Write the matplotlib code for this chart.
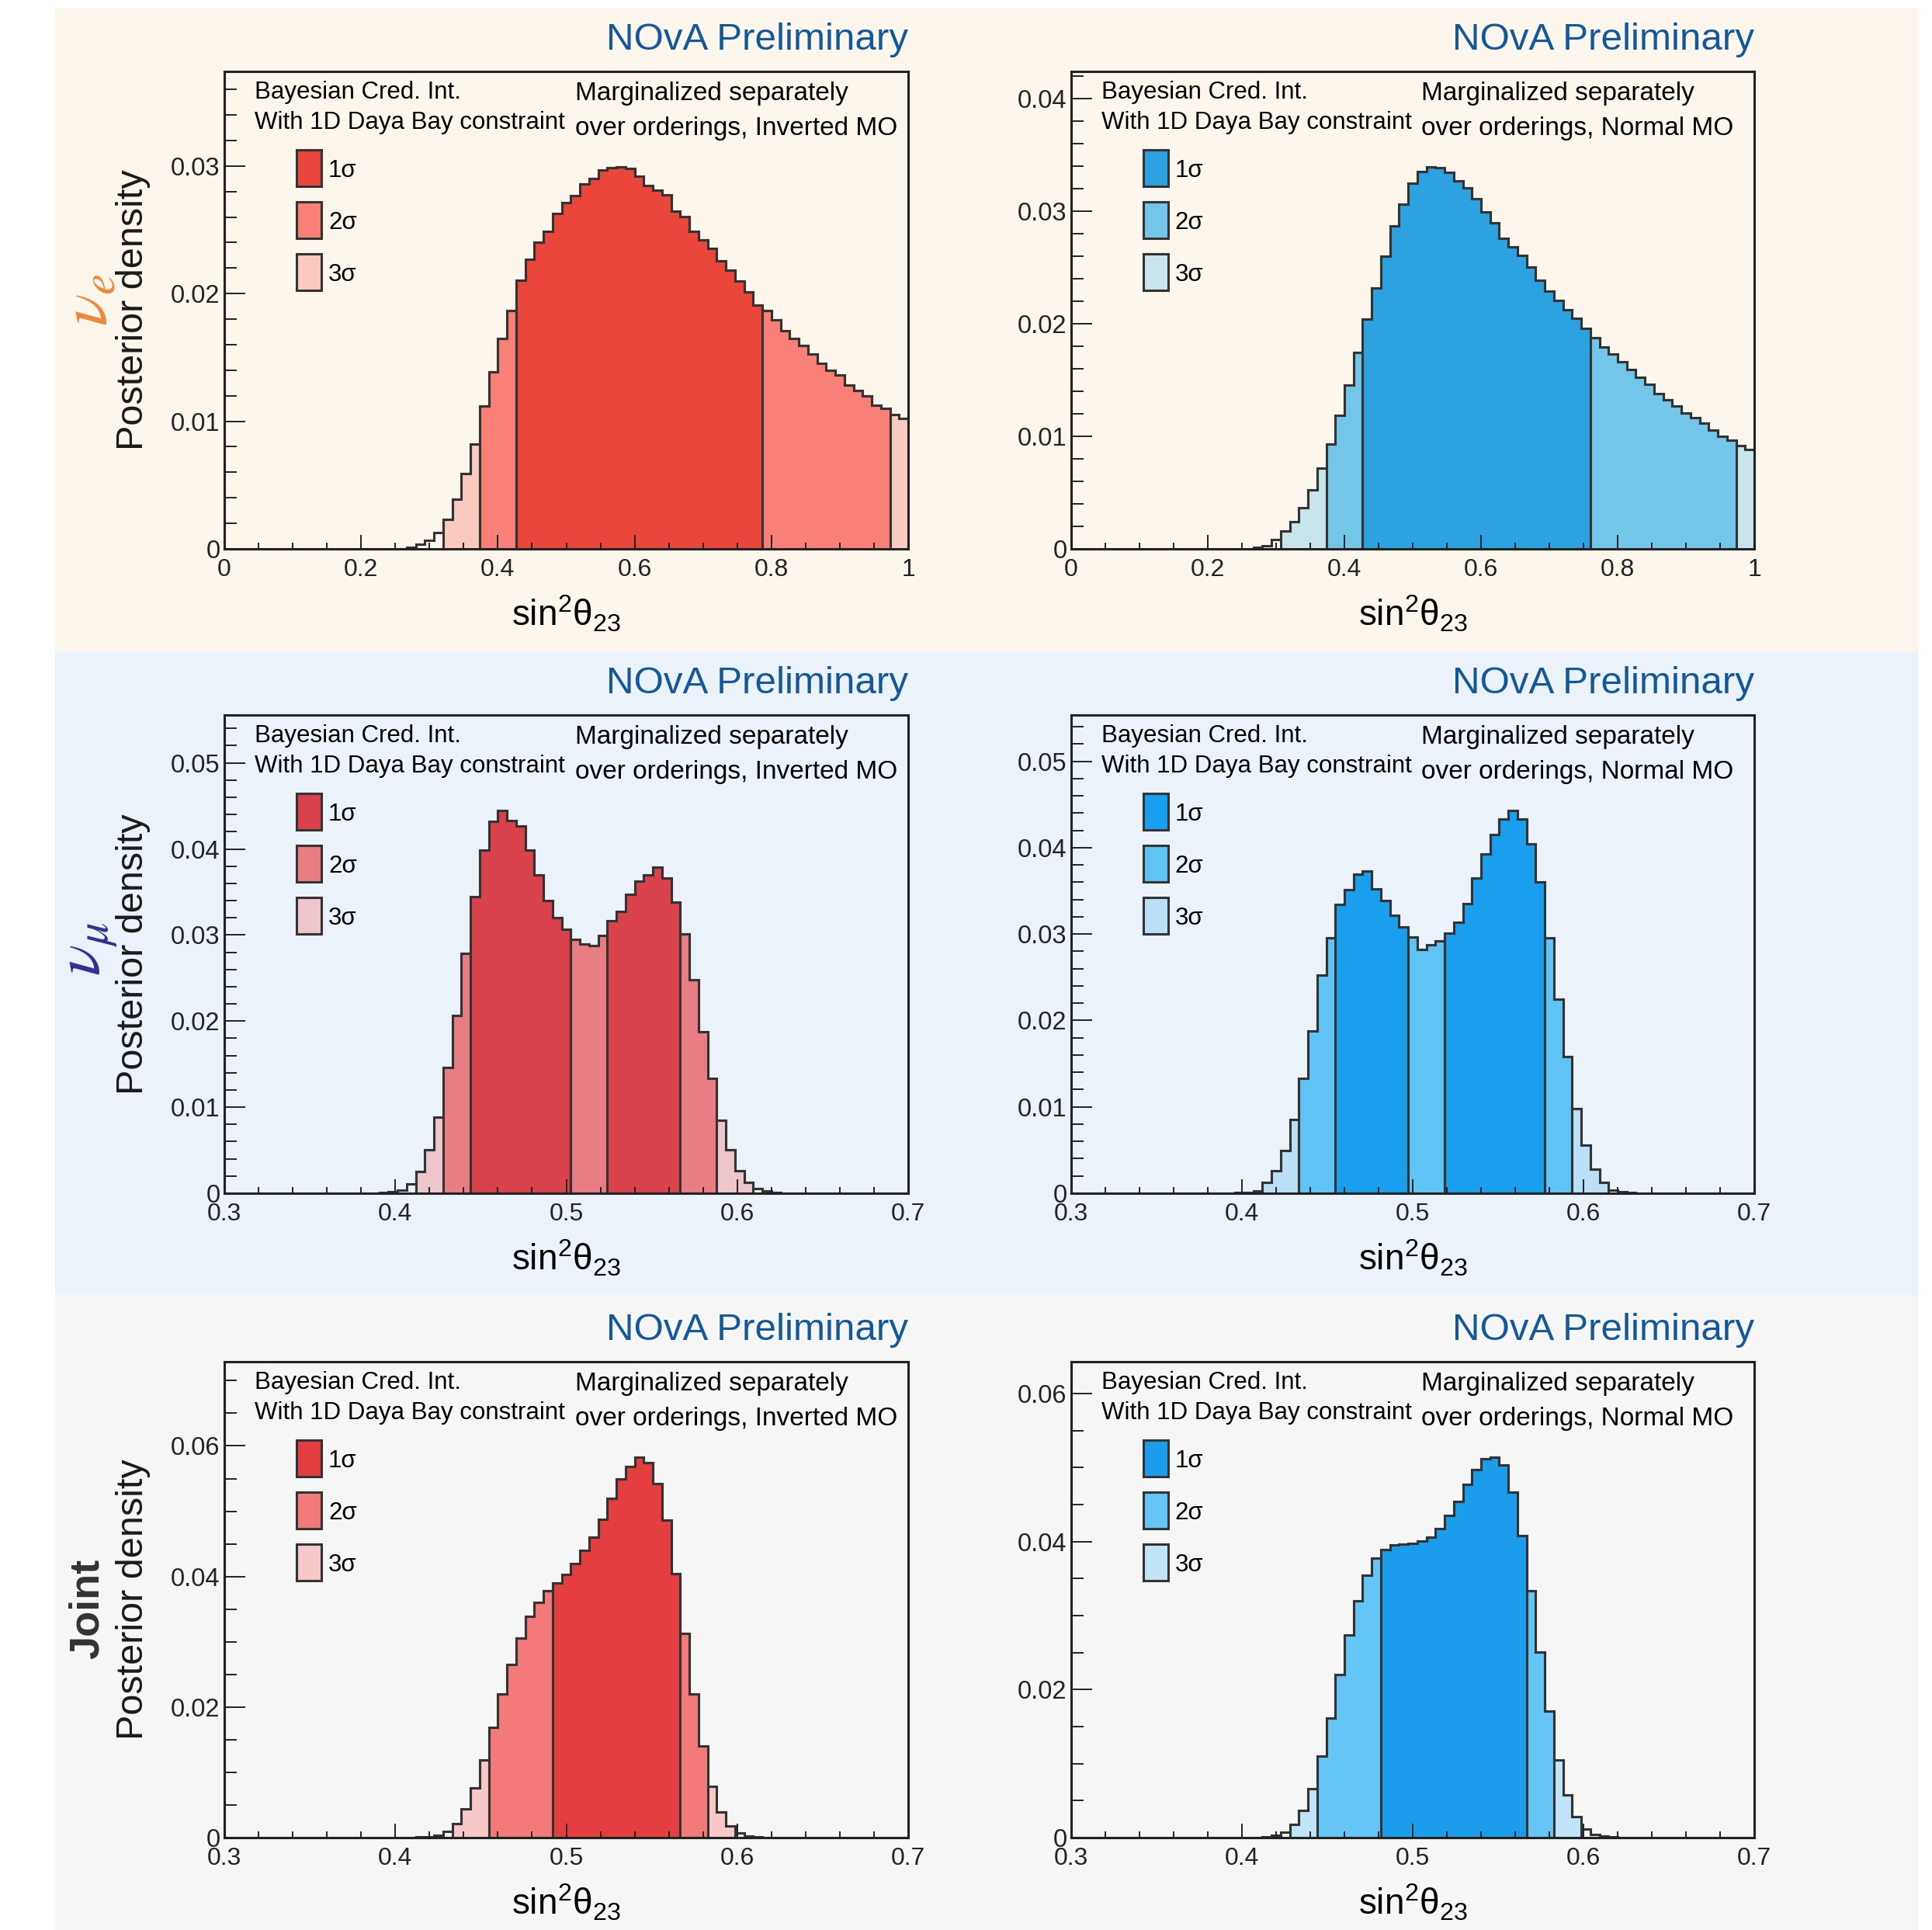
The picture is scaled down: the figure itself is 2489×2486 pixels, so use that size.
import matplotlib
matplotlib.use("Agg")
import matplotlib.pyplot as plt
import numpy as np
from matplotlib.patches import Rectangle
from matplotlib.ticker import MultipleLocator, FuncFormatter

plt.rcParams["font.family"] = ["Liberation Sans", "DejaVu Sans"]
plt.rcParams["mathtext.fontset"] = "custom"
plt.rcParams["mathtext.rm"] = "Liberation Sans"
plt.rcParams["mathtext.it"] = "Liberation Sans:italic"
plt.rcParams["mathtext.bf"] = "Liberation Sans:bold"

W, H = 2489, 2486
N_BINS = 75
LINE = "#333333"
NOVA_BLUE = "#14589c"

# ---- posterior densities (75 bins each), values start at bin index *_first ----
ve_io_first = 20
ve_io = [0.00013, 0.00034, 0.00068, 0.00126, 0.00231, 0.00389, 0.00592, 0.00823, 0.01118, 0.01389,
         0.01646, 0.01867, 0.02104, 0.02270, 0.02401, 0.02488, 0.02627, 0.02714, 0.02769, 0.02862,
         0.02901, 0.02967, 0.02988, 0.02993, 0.02980, 0.02922, 0.02848, 0.02809, 0.02777, 0.02648,
         0.02604, 0.02491, 0.02420, 0.02354, 0.02259, 0.02183, 0.02099, 0.02015, 0.01909, 0.01870,
         0.01796, 0.01710, 0.01646, 0.01594, 0.01525, 0.01454, 0.01402, 0.01362, 0.01283, 0.01239,
         0.01199, 0.01126, 0.01099, 0.01052, 0.01020]
ve_no_first = 20
ve_no = [0.00012, 0.00030, 0.00082, 0.00158, 0.00240, 0.00365, 0.00522, 0.00714, 0.00933, 0.01185,
         0.01455, 0.01747, 0.02041, 0.02315, 0.02600, 0.02871, 0.03065, 0.03247, 0.03354, 0.03393,
         0.03387, 0.03347, 0.03272, 0.03205, 0.03111, 0.02992, 0.02898, 0.02761, 0.02685, 0.02606,
         0.02503, 0.02385, 0.02293, 0.02208, 0.02123, 0.02050, 0.01956, 0.01874, 0.01792, 0.01731,
         0.01662, 0.01592, 0.01525, 0.01464, 0.01379, 0.01321, 0.01267, 0.01206, 0.01166, 0.01115,
         0.01054, 0.01002, 0.00963, 0.00917, 0.00881]
vmu_io_first = 17
vmu_io = [0.00010, 0.00020, 0.00040, 0.00104, 0.00253, 0.00506, 0.00886, 0.01462, 0.02063, 0.02784,
          0.03448, 0.03986, 0.04318, 0.04445, 0.04334, 0.04264, 0.03986, 0.03695, 0.03401, 0.03202,
          0.03069, 0.02948, 0.02895, 0.02879, 0.02999, 0.03170, 0.03274, 0.03474, 0.03622, 0.03695,
          0.03787, 0.03663, 0.03385, 0.03012, 0.02483, 0.01876, 0.01335, 0.00848, 0.00506, 0.00259,
          0.00127, 0.00057, 0.00025, 0.00010]
vmu_no_first = 18
vmu_no = [0.00006, 0.00010, 0.00026, 0.00122, 0.00264, 0.00490, 0.00853, 0.01327, 0.01874, 0.02528,
          0.02957, 0.03340, 0.03517, 0.03697, 0.03730, 0.03520, 0.03391, 0.03214, 0.03082, 0.02969,
          0.02818, 0.02876, 0.02924, 0.03011, 0.03140, 0.03356, 0.03649, 0.03929, 0.04155, 0.04332,
          0.04428, 0.04332, 0.04042, 0.03601, 0.02953, 0.02245, 0.01578, 0.00982, 0.00554, 0.00280,
          0.00122, 0.00032, 0.00016, 0.00006]
jt_io_first = 21
jt_io = [0.00008, 0.00016, 0.00040, 0.00099, 0.00214, 0.00435, 0.00759, 0.01194, 0.01688, 0.02202,
         0.02657, 0.03060, 0.03389, 0.03598, 0.03784, 0.03903, 0.04029, 0.04199, 0.04405, 0.04603,
         0.04879, 0.05196, 0.05496, 0.05682, 0.05832, 0.05741, 0.05417, 0.04860, 0.04049, 0.03132,
         0.02195, 0.01400, 0.00779, 0.00395, 0.00174, 0.00067, 0.00028, 0.00008]
jt_no_first = 20
jt_no = [0.00003, 0.00010, 0.00028, 0.00073, 0.00174, 0.00370, 0.00665, 0.01100, 0.01612, 0.02203,
         0.02736, 0.03202, 0.03543, 0.03777, 0.03891, 0.03954, 0.03961, 0.03978, 0.04003, 0.04058,
         0.04180, 0.04354, 0.04546, 0.04772, 0.04970, 0.05117, 0.05144, 0.05033, 0.04668, 0.04083,
         0.03334, 0.02506, 0.01706, 0.01044, 0.00578, 0.00278, 0.00115, 0.00042, 0.00021, 0.00007]

# credible intervals (sin^2 theta23)
ve_io_1s = [(0.4267, 0.7867)]
ve_io_2s = [(0.3733, 0.9733)]
ve_io_3s = [(0.3200, 1.0000)]
ve_no_1s = [(0.4267, 0.7600)]
ve_no_2s = [(0.3733, 0.9733)]
ve_no_3s = [(0.3067, 1.0000)]
vmu_io_1s = [(0.4440, 0.5027), (0.5240, 0.5667)]
vmu_io_2s = [(0.4280, 0.5880)]
vmu_io_3s = [(0.4120, 0.6093)]
vmu_no_1s = [(0.4547, 0.4973), (0.5187, 0.5773)]
vmu_no_2s = [(0.4333, 0.5933)]
vmu_no_3s = [(0.4120, 0.6147)]
jt_io_1s = [(0.4920, 0.5667)]
jt_io_2s = [(0.4547, 0.5827)]
jt_io_3s = [(0.4333, 0.5987)]
jt_no_1s = [(0.4813, 0.5667)]
jt_no_2s = [(0.4440, 0.5827)]
jt_no_3s = [(0.4280, 0.5987)]

ve_io_colors = ["#eb463b", "#f98076", "#fac9c0"]
ve_no_colors = ["#2ca3e0", "#73c6ea", "#c9e5ec"]
vmu_io_colors = ["#da424b", "#e87d83", "#edc5ca"]
vmu_no_colors = ["#199fed", "#5fc3f6", "#b9e0f6"]
jt_io_colors = ["#e53e40", "#f47a7a", "#f8c8c8"]
jt_no_colors = ["#1c9dec", "#66c5f7", "#c1e4f8"]

band_colors = ["#fcf6ec", "#ebf2f9", "#f6f6f6"]
sigma_labels = ["1\u03c3", "2\u03c3", "3\u03c3"]
x_title = "$\\mathregular{sin^{2}\u03b8_{23}}$"


def full_hist(first, vals):
    h = np.zeros(N_BINS)
    h[first:first + len(vals)] = vals
    return h


def bin_levels(edges, one_s, two_s, three_s):
    centres = 0.5 * (edges[:-1] + edges[1:])
    lev = np.zeros(len(centres), dtype=int)
    for level, ivals in ((3, three_s), (2, two_s), (1, one_s)):
        for lo, hi in ivals:
            lev[(centres > lo) & (centres < hi)] = level
    return lev


def draw_panel(ax, hpx, edges, hist, levels, colors, xmaj, xmin, ymaj, ymin, mo):
    start = 0
    for i in range(1, len(levels) + 1):
        if i == len(levels) or levels[i] != levels[start]:
            lev = levels[start]
            if lev > 0:
                ax.stairs(hist[start:i], edges[start:i + 1], fill=True,
                          facecolor=colors[lev - 1], edgecolor=LINE, linewidth=2.2)
            start = i
    ax.stairs(hist, edges, color=LINE, linewidth=2.2)

    ax.set_xlim(edges[0], edges[-1])
    ax.set_ylim(0, 1.25 * hist.max())
    ax.set_facecolor("none")
    for sp in ax.spines.values():
        sp.set_linewidth(2.2)
        sp.set_color("#222222")

    fmt = FuncFormatter(lambda v, p: "%g" % round(v, 6))
    ax.xaxis.set_major_locator(MultipleLocator(xmaj))
    ax.xaxis.set_minor_locator(MultipleLocator(xmin))
    ax.yaxis.set_major_locator(MultipleLocator(ymaj))
    ax.yaxis.set_minor_locator(MultipleLocator(ymin))
    ax.xaxis.set_major_formatter(fmt)
    ax.yaxis.set_major_formatter(fmt)
    ax.tick_params(axis="x", which="major", direction="in", length=12.7, width=1.4,
                   pad=9, labelsize=23, colors="#222222")
    ax.tick_params(axis="x", which="minor", direction="in", length=6, width=1.4, colors="#222222")
    ax.tick_params(axis="y", which="major", direction="in", length=19.4, width=1.4,
                   pad=4, labelsize=23.5, colors="#222222")
    ax.tick_params(axis="y", which="minor", direction="in", length=11.5, width=1.4, colors="#222222")

    tr = ax.transAxes
    ax.text(1.0, 1 + 28 / hpx, "NOvA Preliminary", transform=tr, ha="right", va="baseline",
            fontsize=35.5, color=NOVA_BLUE)
    ax.text(0.0443, 1 - 35 / hpx, "Bayesian Cred. Int.", transform=tr, fontsize=22.5, va="baseline")
    ax.text(0.0443, 1 - 74 / hpx, "With 1D Daya Bay constraint", transform=tr, fontsize=22.5,
            va="baseline")
    ax.text(0.513, 1 - 37 / hpx, "Marginalized separately", transform=tr, fontsize=24,
            va="baseline")
    ax.text(0.513, 1 - 82 / hpx, "over orderings, %s MO" % mo, transform=tr, fontsize=24,
            va="baseline")

    for j in range(3):
        top_px = 101 + 67 * j
        ax.add_patch(Rectangle((0.1056, 1 - (top_px + 47) / hpx), 0.0363, 47 / hpx,
                               transform=tr, facecolor=colors[j], edgecolor=LINE,
                               linewidth=2.2, clip_on=False))
        ax.text(0.152, 1 - (top_px + 27) / hpx, sigma_labels[j], transform=tr, fontsize=22.5,
                va="center", ha="left")

    ax.text(0.5, -99 / hpx, x_title, transform=tr, ha="center", va="baseline", fontsize=33)


fig = plt.figure(figsize=(W / 100, H / 100), dpi=100)
fig.patch.set_facecolor("white")

band_y = [(11, 839), (839, 1668), (1668, 2486)]
for (y0, y1), c in zip(band_y, band_colors):
    fig.patches.append(Rectangle((71 / W, 1 - y1 / H), 2400 / W, (y1 - y0) / H,
                                 transform=fig.transFigure, facecolor=c, edgecolor="none",
                                 zorder=-10))

top_edges = np.linspace(0.0, 1.0, N_BINS + 1)
low_edges = np.linspace(0.3, 0.7, N_BINS + 1)

cols = [(289, 881), (1380, 880)]
rows = [(92, 707), (921, 1537), (1754, 2367)]

panels = [
    [(top_edges, full_hist(ve_io_first, ve_io), ve_io_1s, ve_io_2s, ve_io_3s, ve_io_colors, 0.2, 0.05, 0.01, 0.002, "Inverted"),
     (top_edges, full_hist(ve_no_first, ve_no), ve_no_1s, ve_no_2s, ve_no_3s, ve_no_colors, 0.2, 0.05, 0.01, 0.002, "Normal")],
    [(low_edges, full_hist(vmu_io_first, vmu_io), vmu_io_1s, vmu_io_2s, vmu_io_3s, vmu_io_colors, 0.1, 0.02, 0.01, 0.002, "Inverted"),
     (low_edges, full_hist(vmu_no_first, vmu_no), vmu_no_1s, vmu_no_2s, vmu_no_3s, vmu_no_colors, 0.1, 0.02, 0.01, 0.002, "Normal")],
    [(low_edges, full_hist(jt_io_first, jt_io), jt_io_1s, jt_io_2s, jt_io_3s, jt_io_colors, 0.1, 0.02, 0.02, 0.005, "Inverted"),
     (low_edges, full_hist(jt_no_first, jt_no), jt_no_1s, jt_no_2s, jt_no_3s, jt_no_colors, 0.1, 0.02, 0.02, 0.005, "Normal")],
]

for r, (t, b) in enumerate(rows):
    hpx = b - t
    for c, (left, wpx) in enumerate(cols):
        edges, hist, s1, s2, s3, colors, xmaj, xmin, ymaj, ymin, mo = panels[r][c]
        ax = fig.add_axes([left / W, 1 - b / H, wpx / W, hpx / H])
        lev = bin_levels(edges, s1, s2, s3)
        draw_panel(ax, hpx, edges, hist, lev, colors, xmaj, xmin, ymaj, ymin, mo)
    fig.text(171 / W, 1 - 0.5 * (t + b) / H, "Posterior density", rotation=90,
             ha="center", va="center", fontsize=35, color="#1a1a1a")

fig.text(115 / W, 1 - 386 / H, r"$\nu_e$", rotation=90, ha="center", va="center",
         fontsize=62, color="#f0883a", math_fontfamily="stix")
fig.text(115 / W, 1 - 1222 / H, r"$\nu_\mu$", rotation=90, ha="center", va="center",
         fontsize=60, color="#2e3192", math_fontfamily="stix")
fig.text(113 / W, 1 - 2072 / H, "Joint", rotation=90, ha="center", va="center",
         fontsize=39, fontweight="bold", color="#333333")

fig.savefig("out.png", dpi=100)
